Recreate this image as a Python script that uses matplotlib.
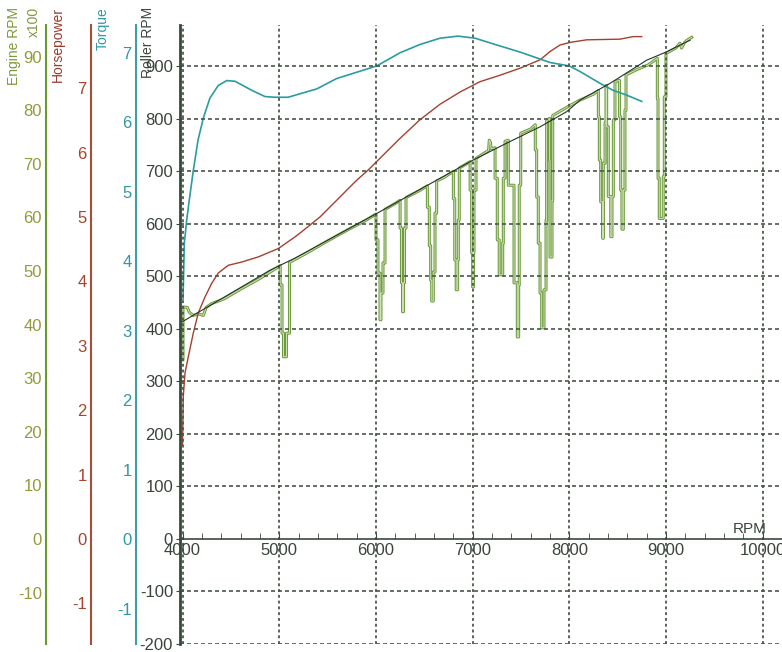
import matplotlib
matplotlib.use('Agg')
import matplotlib.pyplot as plt
from matplotlib.ticker import MultipleLocator

plt.rcParams['font.family'] = ['Liberation Sans', 'DejaVu Sans']
plt.rcParams['axes.unicode_minus'] = False

# torque curve (RPM, torque)
torque_rpm = [4005, 4019, 4043, 4070, 4112, 4160, 4215, 4284, 4370, 4457, 4543, 4716, 4853,
              4957, 5091, 5215, 5388, 5595, 5801, 6008, 6249, 6456, 6663, 6849, 7025, 7232,
              7491, 7801, 8000, 8111, 8318, 8452, 8594, 8749]
torque_val = [3.45, 4.26, 4.59, 4.88, 5.31, 5.74, 6.06, 6.35, 6.53, 6.60, 6.59, 6.46, 6.37,
              6.36, 6.36, 6.41, 6.48, 6.63, 6.72, 6.81, 7.00, 7.12, 7.21, 7.24, 7.21, 7.12,
              7.01, 6.86, 6.81, 6.73, 6.56, 6.46, 6.39, 6.30]

# horsepower curve (RPM, hp)
hp_rpm = [4000, 4008, 4026, 4060, 4112, 4163, 4233, 4302, 4370, 4474, 4612, 4784, 4991,
          5163, 5215, 5422, 5595, 5801, 5921, 6249, 6456, 6663, 6870, 7076, 7283, 7491,
          7698, 7802, 7904, 8007, 8180, 8524, 8659, 8749]
hp_val = [1.46, 2.21, 2.58, 2.83, 3.20, 3.51, 3.76, 3.97, 4.13, 4.25, 4.30, 4.38, 4.51,
          4.69, 4.75, 5.00, 5.26, 5.57, 5.73, 6.22, 6.51, 6.75, 6.94, 7.10, 7.20, 7.31,
          7.44, 7.57, 7.67, 7.71, 7.75, 7.76, 7.80, 7.80]

# roller RPM
roller_rpm = [4000, 4905, 5163, 6008, 6663, 7007, 7353, 7697, 7973, 8111, 8422, 8800, 9007, 9214, 9249]
roller_val = [414, 512, 535, 620, 687, 722, 754, 785, 814, 836, 868, 912, 928, 947, 950]

# engine RPM x100 (with dropouts)
engine_rpm = [4000, 4005, 4050, 4070, 4110, 4165, 4215, 4245, 4300, 4430, 4600, 4800, 4950,
              5008, 5010, 5029, 5044, 5075, 5106, 5300, 5500, 5700, 5900,
              5998, 6001, 6021, 6042, 6052, 6073, 6094, 6200,
              6249, 6250, 6264, 6275, 6285, 6295, 6311, 6450,
              6531, 6532, 6552, 6566, 6577, 6593, 6611, 6628, 6700,
              6800, 6801, 6815, 6830, 6845, 6852, 6862,
              6973, 6974, 6990, 7001, 7008, 7014, 7035, 7120, 7165, 7172, 7185, 7190,
              7231, 7232, 7255, 7275, 7311, 7317, 7335,
              7368, 7369, 7428, 7462, 7476, 7482, 7497, 7600,
              7647, 7648, 7662, 7679, 7697, 7714, 7738, 7759, 7765,
              7795, 7796, 7800, 7821, 7828, 7950, 8100, 8250,
              8299, 8300, 8310, 8324, 8345, 8351, 8369, 8379, 8386, 8403, 8428, 8441, 8455,
              8472, 8517, 8518, 8531, 8544, 8558, 8575, 8586, 8700, 8820,
              8909, 8910, 8917, 8930, 8971, 8982, 8999, 9100, 9144, 9160, 9190, 9213, 9265]
engine_val = [33.4, 43.3, 43.2, 42.3, 41.7, 42.0, 41.7, 43.2, 43.9, 44.8, 46.6, 48.6, 50.3,
              51.0, 47.4, 38.4, 34.0, 38.4, 51.6, 53.5, 55.6, 57.6, 59.5,
              60.6, 55.8, 49.6, 40.9, 45.9, 51.5, 61.5, 62.6,
              63.2, 58.0, 47.8, 42.4, 47.8, 58.0, 63.7, 65.0,
              65.9, 61.9, 54.7, 48.3, 44.4, 49.8, 60.8, 66.8, 67.4,
              68.6, 63.5, 52.1, 46.5, 52.1, 59.5, 69.2,
              70.4, 65.1, 53.4, 47.0, 53.4, 65.1, 71.0, 72.0, 72.5, 74.4, 74.0, 72.8,
              73.0, 67.3, 55.8, 49.3, 55.2, 67.3, 74.2,
              74.4, 66.0, 47.8, 37.7, 47.4, 66.0, 75.7, 76.5,
              77.3, 72.6, 63.8, 55.2, 45.9, 39.4, 46.5, 59.5, 78.0,
              78.5, 70.7, 52.6, 63.2, 79.0, 80.3, 81.8, 83.0,
              83.7, 78.8, 70.7, 62.9, 56.1, 70.1, 77.6, 84.6, 76.9, 63.9, 56.4, 63.9, 78.2,
              85.3, 85.6, 78.8, 65.1, 57.8, 65.1, 80.0, 86.6, 87.6, 88.5,
              89.7, 82.2, 67.3, 59.8, 67.6, 82.5, 90.6, 91.6, 92.5, 91.6, 92.6, 93.0, 93.6]

roller_ticks = list(range(-200, 1000, 100))
engine_ticks = list(range(-10, 100, 10))
hp_ticks = list(range(-1, 8))
torque_ticks = list(range(-1, 8))
rpm_ticks = list(range(4000, 11000, 1000))

# dropouts are sampled values: draw big jumps as steps, smooth parts as lines
ex, ey = [engine_rpm[0]], [engine_val[0]]
for i in range(1, len(engine_rpm)):
    if abs(engine_val[i] - engine_val[i - 1]) > 2.5:
        ex.append(engine_rpm[i])
        ey.append(engine_val[i - 1])
    ex.append(engine_rpm[i])
    ey.append(engine_val[i])

W, H = 782, 652
fig = plt.figure(figsize=(W / 100, H / 100), dpi=100)
ax = fig.add_axes([180 / W, 8 / H, 602 / W, 619 / H])
ax.set_xlim(3974, 10199)
ax.set_ylim(-200, 979)

grid_c = '#4a584a'
text_c = '#3a443a'


def side_axis(pos, lim, ticks, spine_c, label_c):
    par = ax.twinx()
    par.set_ylim(*lim)
    for s in ['top', 'right', 'bottom']:
        par.spines[s].set_visible(False)
    par.spines['left'].set_visible(True)
    par.spines['left'].set_position(('axes', pos))
    par.spines['left'].set_color(spine_c)
    par.spines['left'].set_linewidth(1.5)
    par.yaxis.set_ticks_position('left')
    par.set_yticks(ticks)
    par.tick_params(axis='y', length=0, pad=3, labelsize=12, labelcolor=label_c)
    return par


eng_ax = side_axis(-0.2226, (-19.6, 95.9), engine_ticks, '#6b9a2e', '#929a3a')
hp_ax = side_axis(-0.1478, (-1.63, 7.98), hp_ticks, '#a44e3c', '#a8432c')
tq_ax = side_axis(-0.0731, (-1.51, 7.40), torque_ticks, '#3ca0a6', '#2f98a0')

eng_ax.plot(ex, ey, color='#6e9c3e', lw=2.2)
eng_ax.plot(ex, ey, color='#cfe2b8', lw=0.7)
hp_ax.plot(hp_rpm, hp_val, color='#a5402c', lw=1.0)
tq_ax.plot(torque_rpm, torque_val, color='#2a9ca2', lw=1.2)

# main axis on top
ax.set_zorder(5)
ax.patch.set_visible(False)
ax.plot(roller_rpm, roller_val, color='#263426', lw=0.8)

for y in roller_ticks:
    if y != 0:
        ax.axhline(y, color=grid_c, lw=1.2, ls=(0, (2.4, 1.8)), zorder=0)
for x in rpm_ticks:
    ax.axvline(x, color=grid_c, lw=1.3, ls=(0, (1.6, 1.6)), zorder=0)

ax.spines['top'].set_visible(False)
ax.spines['right'].set_visible(False)
ax.spines['left'].set_color('#3a4a3a')
ax.spines['left'].set_linewidth(2)
ax.spines['bottom'].set_position(('data', 0))
ax.spines['bottom'].set_color('#3a4a3a')
ax.spines['bottom'].set_linewidth(1.2)

ax.set_yticks(roller_ticks)
ax.set_xticks(rpm_ticks)
ax.xaxis.set_minor_locator(MultipleLocator(200))
ax.tick_params(axis='y', direction='out', length=3, pad=2, labelsize=12,
               labelcolor=text_c, color='#3a4a3a')
ax.tick_params(axis='x', which='both', direction='in', length=4, pad=3, labelsize=12,
               labelcolor=text_c, color='#3a4a3a')
ax.text(9870, 6, 'RPM', ha='center', va='bottom', fontsize=11, color=text_c)


def title(x, text, color):
    fig.text(x / W, 1 - 7 / H, text, rotation=90, ha='center', va='top',
             fontsize=10, color=color)


title(14, 'Engine RPM', '#7e9a3e')
title(34, 'x100', '#7e9a3e')
title(58, 'Horsepower', '#9c3a2a')
title(103, 'Torque', '#2f9aa2')
title(148, 'Roller RPM', '#3e463e')

fig.savefig('out.png', dpi=100)
